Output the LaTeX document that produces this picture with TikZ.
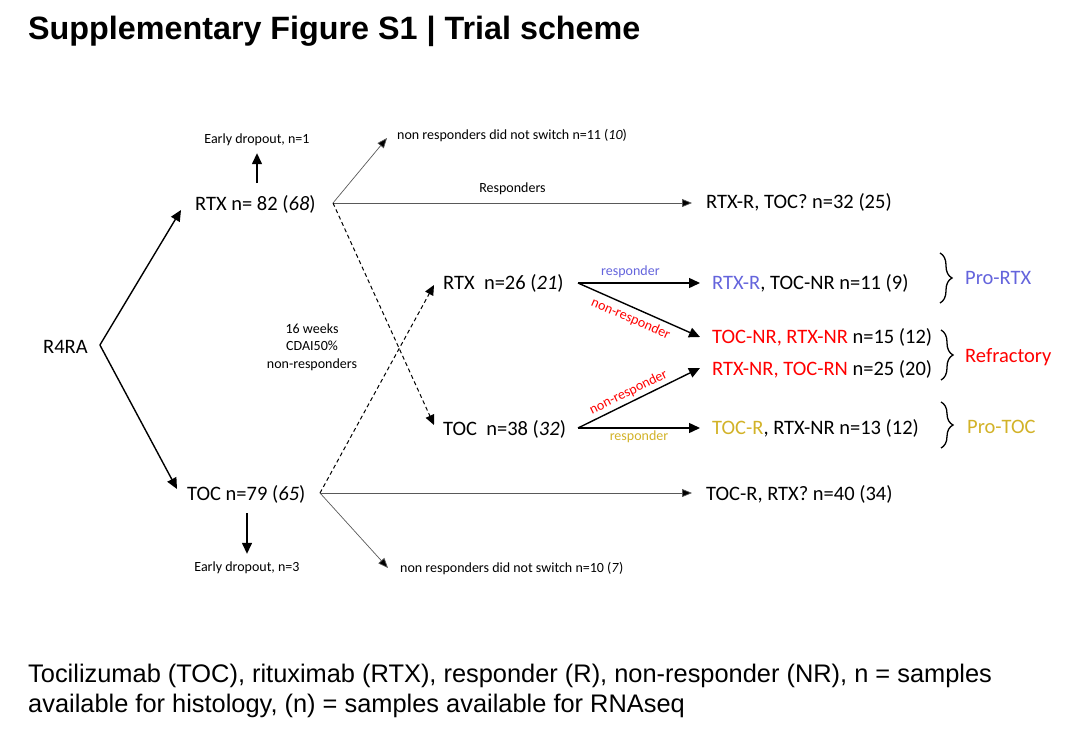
\documentclass[tikz,border=0pt]{standalone}
\usepackage{fontspec}
\setmainfont{Carlito}
\newfontfamily\arialfont{Liberation Sans}
\usetikzlibrary{arrows.meta, calc, decorations.pathreplacing}
\definecolor{rtxblue}{RGB}{100,100,220}
\definecolor{tocgold}{RGB}{210,178,40}
\definecolor{nrred}{RGB}{255,0,0}
\tikzset{
  big/.style={font=\fontsize{20.5}{24}\selectfont, inner sep=0pt},
  small/.style={font=\fontsize{14}{17.5}\selectfont, inner sep=0pt},
  thick arrow/.style={line width=1.4pt, -{Triangle[length=11pt,width=10pt]}},
  thin arrow/.style={line width=0.7pt, draw=black!65, -{Triangle[length=10pt,width=8pt,fill=black]}},
  dash arrow/.style={line width=1pt, dash pattern=on 4pt off 3pt, -{Triangle[length=10pt,width=9pt]}},
  bracket/.style={line width=1.3pt, decorate, decoration={brace, amplitude=12pt}},
}

\begin{document}
\begin{tikzpicture}[x=1pt, y=-1pt]
\useasboundingbox (0,0) rectangle (1080,731);
\node[anchor=base west, inner sep=0pt, font=\arialfont\bfseries\fontsize{32.3}{36}\selectfont] (title) at (28,39) {Supplementary Figure S1 | Trial scheme};

\node[big, anchor=west] (r4ra) at (43,347) {R4RA};
\node[big, anchor=west] (rtx) at (195,204) {RTX n= 82 (\textit{68})};
\node[big, anchor=west] (toc) at (187,494) {TOC n=79 (\textit{65})};
\node[small] (drop1) at (257,140) {Early dropout, n=1};
\node[small] (drop3) at (247,568) {Early dropout, n=3};
\node[small, anchor=west] (nsw1) at (397,136) {non responders did not switch n=11 (\textit{10})};
\node[small, anchor=west] (nsw2) at (400,569) {non responders did not switch n=10 (\textit{7})};
\node[big, anchor=west] (rtxr) at (706,202) {RTX-R, TOC? n=32 (25)};
\node[big, anchor=west] (tocr) at (706,494) {TOC-R, RTX? n=40 (34)};
\node[small, align=center] (weeks) at (312,347) {16 weeks\\CDAI50\%\\non-responders};
\node[big, anchor=west] (rtx2) at (443,283) {RTX\ \ n=26 (\textit{21})};
\node[big, anchor=west] (toc2) at (443,429) {TOC\ \ n=38 (\textit{32})};
\node[big, anchor=west] (outa) at (712,283) {\textcolor{rtxblue}{RTX-R}, TOC-NR n=11 (9)};
\node[big, anchor=west] (outb) at (712,337) {\textcolor{nrred}{TOC-NR, RTX-NR} n=15 (12)};
\node[big, anchor=west] (outc) at (712,369) {\textcolor{nrred}{RTX-NR, TOC-RN} n=25 (20)};
\node[big, anchor=west] (outd) at (712,428) {\textcolor{tocgold}{TOC-R}, RTX-NR n=13 (12)};
\node[big, anchor=west, text=rtxblue] (protx) at (965,278) {Pro-RTX};
\node[big, anchor=west, text=nrred] (refr) at (965,357) {Refractory};
\node[big, anchor=west, text=tocgold] (protoc) at (967,427) {Pro-TOC};
\node[anchor=base west, inner sep=0pt, font=\arialfont\fontsize{25.4}{30}\selectfont] (cap1) at (28,682) {Tocilizumab (TOC), rituximab (RTX), responder (R), non-responder (NR), n = samples};
\node[anchor=base west, inner sep=0pt, font=\arialfont\fontsize{25.4}{30}\selectfont] (cap2) at (28,712) {available for histology, (n) = samples available for RNAseq};

\coordinate (apex) at ($(r4ra.east)+(12,-2)$);
\coordinate (rtxfork) at ($(rtx.west)+(138,-1)$);
\coordinate (tocfork) at ($(toc.west)+(133,-1)$);
\coordinate (rtx2fork) at ($(rtx2.west)+(135,0)$);
\coordinate (toc2fork) at ($(toc2.west)+(135,-1)$);

\draw[thick arrow] (apex) -- ($(rtx.west)+(-14,6)$);
\draw[thick arrow] (apex) -- ($(toc.west)+(-10,-5)$);
\draw[thick arrow] ($(rtx.west -| drop1.south)+(0,-21)$) -- ($(drop1.south)+(0,7)$);
\draw[thick arrow] ($(toc.west -| drop3.north)+(0,19)$) -- ($(drop3.north)+(0,-8)$);
\draw[thin arrow] (rtxfork) -- ($(nsw1.west)+(-10,2)$);
\draw[thin arrow] (rtxfork) -- node[small, midway, above=8pt] {Responders} ($(rtxr.west)+(-14,1)$);
\draw[thin arrow] (tocfork) -- ($(tocr.west)+(-14,-1)$);
\draw[thin arrow] (tocfork) -- ($(nsw2.west)+(-12,-1)$);
\draw[dash arrow] (rtxfork) -- ($(toc2.west)+(-9,-4)$);
\draw[dash arrow] (tocfork) -- ($(rtx2.west)+(-9,2)$);
\draw[thick arrow] (rtx2fork) -- node[small, pos=0.43, above=5pt, text=rtxblue] {responder} ($(outa.west)+(-12,0)$);
\draw[thick arrow] (rtx2fork) -- node[small, pos=0.47, below=5pt, sloped, text=nrred] {non-responder} ($(outb.west)+(-12,0)$);
\draw[thick arrow] (toc2fork) -- node[small, pos=0.45, above=3pt, sloped, text=nrred] {non-responder} ($(outc.west)+(-12,-1)$);
\draw[thick arrow] (toc2fork) -- node[small, pos=0.5, below=2pt, text=tocgold] {responder} ($(outd.west)+(-12,0)$);

\draw[bracket] (940,253) -- (940,303);
\draw[bracket] (941,330) -- (941,380);
\draw[bracket] (941,402) -- (941,448);
\end{tikzpicture}
\end{document}
